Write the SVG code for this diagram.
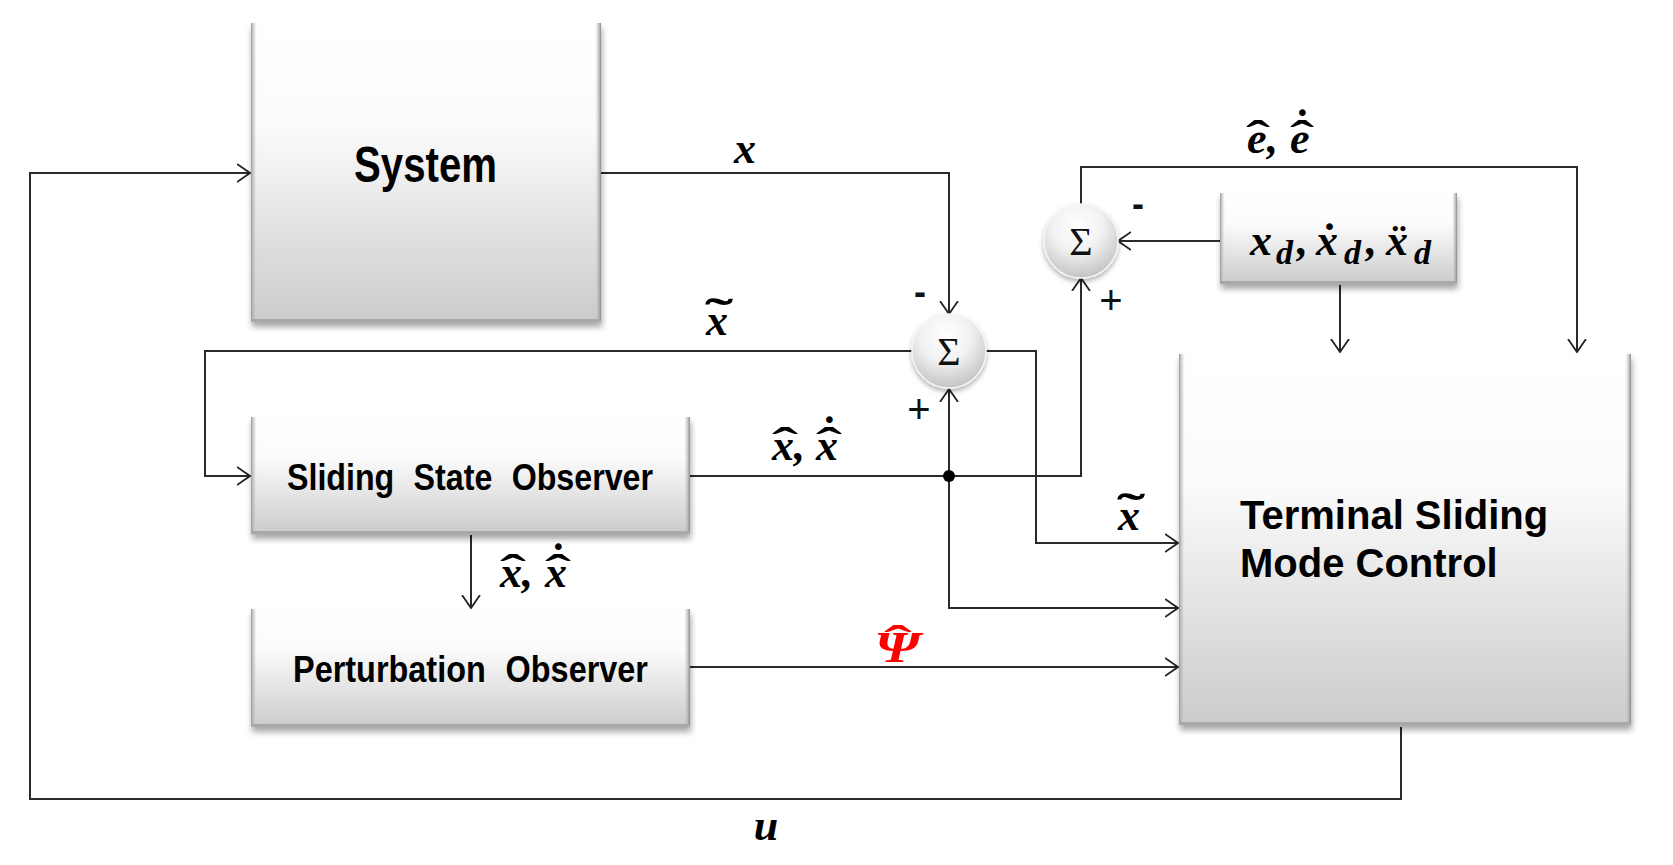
<svg xmlns="http://www.w3.org/2000/svg" width="1673" height="865" viewBox="0 0 1673 865">
<defs>
  <linearGradient id="boxGrad" x1="0" y1="0" x2="0" y2="1">
    <stop offset="0" stop-color="#ffffff"/>
    <stop offset="0.35" stop-color="#fbfbfb"/>
    <stop offset="1" stop-color="#cbcbcb"/>
  </linearGradient>
  <linearGradient id="edgeL" x1="0" y1="0" x2="1" y2="0">
    <stop offset="0" stop-color="#9a9a9a"/>
    <stop offset="1" stop-color="#d8d8d8" stop-opacity="0"/>
  </linearGradient>
  <linearGradient id="edgeR" x1="1" y1="0" x2="0" y2="0">
    <stop offset="0" stop-color="#8a8a8a"/>
    <stop offset="1" stop-color="#d0d0d0" stop-opacity="0"/>
  </linearGradient>
  <radialGradient id="sumGrad" cx="0.45" cy="0.3" r="0.75">
    <stop offset="0" stop-color="#ffffff"/>
    <stop offset="0.45" stop-color="#f2f2f2"/>
    <stop offset="1" stop-color="#bdbdbd"/>
  </radialGradient>
  <filter id="shadow" x="-5%" y="-5%" width="110%" height="115%">
    <feDropShadow dx="1" dy="5" stdDeviation="3" flood-color="#000" flood-opacity="0.35"/>
  </filter>
  <filter id="cshadow" x="-20%" y="-20%" width="140%" height="150%">
    <feDropShadow dx="0" dy="3" stdDeviation="2.5" flood-color="#000" flood-opacity="0.3"/>
  </filter>
  <marker id="arr" viewBox="0 0 14 20" refX="13" refY="10" markerWidth="14" markerHeight="20" markerUnits="userSpaceOnUse" orient="auto">
    <path d="M0,1 L13,10 L0,19" fill="none" stroke="#222" stroke-width="1.8"/>
  </marker>
  <style>
    .box { fill: url(#boxGrad); filter: url(#shadow); }
    .el { fill: url(#edgeL); }
    .er { fill: url(#edgeR); }
    .eb { fill: #a8a8a8; }
    .sum { fill: url(#sumGrad); stroke: #f4f4f4; stroke-width: 1.5; filter: url(#cshadow); }
    .sig { font-family: "Liberation Serif", serif; font-size: 40px; fill: #111; text-anchor: middle; }
    .cond { font-family: "Liberation Sans Narrow", "Liberation Sans", Arial, sans-serif; font-weight: bold; fill: #000; }
    .tsmc { font-family: "Liberation Sans", Arial, sans-serif; font-weight: bold; font-size: 40px; fill: #000; }
    .math { font-family: "Liberation Serif", "DejaVu Serif", serif; font-weight: bold; font-style: italic; font-size: 44px; fill: #000; }
    .acc { font-style: normal; }
    .red { fill: #ff0000; }
    .plus { font-family: "Liberation Sans", Arial, sans-serif; font-size: 40px; fill: #111; text-anchor: middle; }
    .minus { font-family: "Liberation Sans", Arial, sans-serif; font-weight: bold; font-size: 36px; fill: #111; text-anchor: middle; }
    .wa { fill: none; stroke: #2a2a2a; stroke-width: 2; marker-end: url(#arr); }
  </style>
</defs>
<rect width="1673" height="865" fill="#ffffff"/>

<g id="connectors">
  <path class="wa" d="M600,173 H949 V314"/>
  <path class="wa" d="M912,351 H205 V476 H250"/>
  <path class="wa" d="M986,351 H1036 V543 H1178"/>
  <path class="wa" d="M690,476 H1081 V278"/>
  <path class="wa" d="M949,476 V389"/>
  <path class="wa" d="M949,476 V608 H1178"/>
  <path class="wa" d="M690,667 H1178"/>
  <path class="wa" d="M1220,241 H1118"/>
  <path class="wa" d="M1081,204 V167 H1577 V352"/>
  <path class="wa" d="M1340,285 V352"/>
  <path class="wa" d="M1401,727 V799 H30 V173 H250"/>
  <path class="wa" d="M471,535 V608"/>
  <circle cx="949" cy="476" r="6" fill="#000"/>
</g>

<g id="system">
  <rect class="box" x="251" y="23" width="350" height="299"/>
  <rect class="el" x="251" y="23" width="6" height="299"/>
  <rect class="er" x="595" y="23" width="6" height="299"/>
  <rect class="eb" x="251" y="319" width="350" height="3"/>
  <text class="cond" x="354" y="182" font-size="50" textLength="143" lengthAdjust="spacingAndGlyphs">System</text>
</g>

<g id="sso">
  <rect class="box" x="251" y="417" width="439" height="117"/>
  <rect class="el" x="251" y="417" width="6" height="117"/>
  <rect class="er" x="684" y="417" width="6" height="117"/>
  <rect class="eb" x="251" y="531" width="439" height="3"/>
  <text class="cond" x="287" y="490" font-size="37" textLength="366" lengthAdjust="spacingAndGlyphs" word-spacing="12">Sliding State Observer</text>
</g>

<g id="po">
  <rect class="box" x="251" y="609" width="439" height="118"/>
  <rect class="el" x="251" y="609" width="6" height="118"/>
  <rect class="er" x="684" y="609" width="6" height="118"/>
  <rect class="eb" x="251" y="724" width="439" height="3"/>
  <text class="cond" x="293" y="682" font-size="36" textLength="355" lengthAdjust="spacingAndGlyphs" word-spacing="12">Perturbation Observer</text>
</g>

<g id="xd">
  <rect class="box" x="1220" y="193" width="237" height="91"/>
  <rect class="el" x="1220" y="193" width="5" height="91"/>
  <rect class="er" x="1452" y="193" width="5" height="91"/>
  <rect class="eb" x="1220" y="281" width="237" height="3"/>
  <text class="math" x="1250" y="255" font-size="50">x<tspan x="1276" y="264" font-size="34">d</tspan><tspan x="1297" y="255">,</tspan><tspan x="1316">ẋ</tspan><tspan x="1344" y="264" font-size="34">d</tspan><tspan x="1366" y="255">,</tspan><tspan x="1386">ẍ</tspan><tspan x="1414" y="264" font-size="34">d</tspan></text>
</g>

<g id="tsmc">
  <rect class="box" x="1179" y="354" width="452" height="371"/>
  <rect class="el" x="1179" y="354" width="6" height="371"/>
  <rect class="er" x="1625" y="354" width="6" height="371"/>
  <rect class="eb" x="1179" y="722" width="452" height="3"/>
  <text class="tsmc" x="1240" y="529">Terminal Sliding</text>
  <text class="tsmc" x="1240" y="577">Mode Control</text>
</g>

<g id="sum1">
  <circle class="sum" cx="949" cy="351" r="37"/>
  <text class="sig" x="949" y="365">Σ</text>
</g>

<g id="sum2">
  <circle class="sum" cx="1081" cy="241" r="37"/>
  <text class="sig" x="1081" y="255">Σ</text>
</g>

<g id="labels">
  <text class="math" x="745" y="163" text-anchor="middle">x</text>

  <text class="math" x="706" y="335">x<tspan class="acc" x="705" y="329" textLength="28" lengthAdjust="spacingAndGlyphs">˜</tspan></text>

  <text class="math" x="1118" y="530">x<tspan class="acc" x="1117" y="524" textLength="28" lengthAdjust="spacingAndGlyphs">˜</tspan></text>

  <text class="math" x="772" y="460">x<tspan x="794">,</tspan><tspan x="816">x</tspan><tspan class="acc" x="772" y="458" textLength="26" lengthAdjust="spacingAndGlyphs">ˆ</tspan><tspan class="acc" x="816" y="458" textLength="26" lengthAdjust="spacingAndGlyphs">ˆ</tspan><tspan class="acc" x="822" y="447">˙</tspan></text>

  <text class="math" x="500" y="587">x<tspan x="522">,</tspan><tspan x="545">x</tspan><tspan class="acc" x="500" y="585" textLength="26" lengthAdjust="spacingAndGlyphs">ˆ</tspan><tspan class="acc" x="545" y="585" textLength="26" lengthAdjust="spacingAndGlyphs">ˆ</tspan><tspan class="acc" x="551" y="574">˙</tspan></text>

  <text class="math" x="1247" y="153">e<tspan x="1267">,</tspan><tspan x="1290">e</tspan><tspan class="acc" x="1246" y="151" textLength="24" lengthAdjust="spacingAndGlyphs">ˆ</tspan><tspan class="acc" x="1290" y="151" textLength="24" lengthAdjust="spacingAndGlyphs">ˆ</tspan><tspan class="acc" x="1295" y="140">˙</tspan></text>

  <text class="math red" transform="translate(897,662) scale(1.3,1)" font-size="36" text-anchor="middle">Ψ</text>
  <text class="math acc red" transform="translate(898,656) scale(1.9,1)" font-size="40" text-anchor="middle">ˆ</text>

  <text class="math" x="766" y="840" text-anchor="middle">u</text>

  <text class="minus" x="920" y="304">-</text>
  <text class="plus" x="919" y="423">+</text>
  <text class="minus" x="1138" y="216">-</text>
  <text class="plus" x="1111" y="314">+</text>
</g>
</svg>
